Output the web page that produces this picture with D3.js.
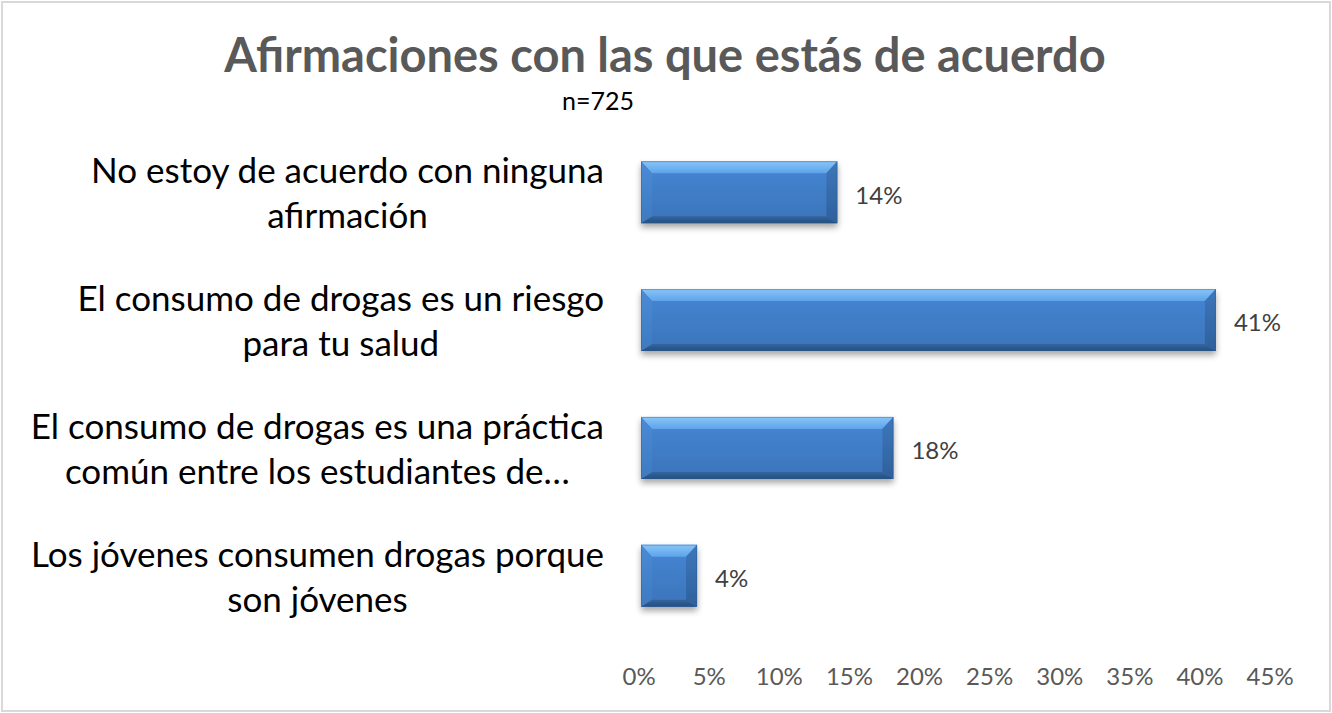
<!DOCTYPE html>
<html lang="es">
<head>
<meta charset="UTF-8">
<title>Afirmaciones con las que estás de acuerdo</title>
<style>
  body { margin: 0; background: #fff; }
  svg { display: block; }
  .title { font-family: Lato, "Open Sans", sans-serif; font-weight: bold; fill: #595959; }
  .subtitle { font-family: Lato, "Open Sans", sans-serif; fill: #000; }
  .cat-label { font-family: Lato, "Open Sans", sans-serif; fill: #000; }
  .value-label { font-family: Lato, "Open Sans", sans-serif; fill: #404040; }
  .axis text { font-family: Lato, "Open Sans", sans-serif; fill: #595959; }
</style>
</head>
<body>
<script src="https://d3js.org/d3.v7.min.js"></script>
<script>
// data
const categories = [
  ["No estoy de acuerdo con ninguna", "afirmación"],
  ["El consumo de drogas es un riesgo", "para tu salud"],
  ["El consumo de drogas es una práctica", "común entre los estudiantes de…"],
  ["Los jóvenes consumen drogas porque", "son jóvenes"]
];
const values = [0.14, 0.41, 0.18, 0.04];
const tickValues = [0, 0.05, 0.10, 0.15, 0.20, 0.25, 0.30, 0.35, 0.40, 0.45];

const width = 1332, height = 713;
const margin = { top: 128, right: 60, bottom: 73, left: 641 };

const svg = d3.select("body").append("svg")
  .attr("width", width)
  .attr("height", height);

const defs = svg.append("defs");

const shadow = defs.append("filter")
  .attr("id", "shadow")
  .attr("x", "-10%").attr("y", "-20%")
  .attr("width", "120%").attr("height", "160%");
shadow.append("feDropShadow")
  .attr("dx", 0).attr("dy", 4)
  .attr("stdDeviation", 3)
  .attr("flood-color", "#000")
  .attr("flood-opacity", 0.35);

function grad(id, c1, c2) {
  const g = defs.append("linearGradient")
    .attr("id", id)
    .attr("x1", 0).attr("y1", 0).attr("x2", 0).attr("y2", 1);
  g.append("stop").attr("offset", "0%").attr("stop-color", c1);
  g.append("stop").attr("offset", "100%").attr("stop-color", c2);
}
grad("g-main", "#4686d4", "#3b74ba");
grad("g-top", "#88c6f8", "#5ea3ea");
grad("g-bottom", "#33659e", "#264e7e");
grad("g-left", "#4a8bd6", "#3e7ac0");
grad("g-right", "#3d77bc", "#2f609b");

// frame
svg.append("rect")
  .attr("x", 2).attr("y", 2)
  .attr("width", width - 4).attr("height", height - 4)
  .attr("fill", "#fff")
  .attr("stroke", "#d9d9d9")
  .attr("stroke-width", 2);

// title
svg.append("text")
  .attr("class", "title")
  .attr("x", 665).attr("y", 72)
  .attr("text-anchor", "middle")
  .attr("font-size", 47)
  .text("Afirmaciones con las que estás de acuerdo");

svg.append("text")
  .attr("class", "subtitle")
  .attr("x", 598).attr("y", 110)
  .attr("text-anchor", "middle")
  .attr("font-size", 25)
  .text("n=725");

const x = d3.scaleLinear()
  .domain([0, 0.45])
  .range([margin.left, width - margin.right]);

const y = d3.scaleBand()
  .domain(d3.range(categories.length))
  .range([margin.top, height - margin.bottom])
  .paddingInner(0.515)
  .paddingOuter(0.26);

// x axis (labels only)
const xAxis = svg.append("g")
  .attr("class", "axis")
  .attr("transform", `translate(0,${height - margin.bottom})`)
  .call(d3.axisBottom(x).tickValues(tickValues).tickFormat(d3.format(".0%")).tickSize(0).tickPadding(28));
xAxis.select(".domain").remove();
xAxis.selectAll("text").attr("font-size", 24).attr("dx", "-0.1em");

// category labels
const labelGroup = svg.append("g");
categories.forEach((lines, i) => {
  const cy = y(i) + y.bandwidth() / 2;
  const t = labelGroup.append("text")
    .attr("class", "cat-label")
    .attr("font-size", 35)
    .attr("text-anchor", "middle");
  lines.forEach((ln, j) => {
    t.append("tspan").attr("x", 0).attr("y", cy - 9 + j * 45).text(ln);
  });
  // right-align the widest line at 604, centre the rest on it
  let w = 0;
  t.selectAll("tspan").each(function() { w = Math.max(w, this.getComputedTextLength()); });
  t.attr("transform", `translate(${604 - w / 2},0)`);
});

// bars
const bars = svg.append("g")
  .selectAll("g")
  .data(values)
  .enter().append("g")
  .attr("filter", "url(#shadow)");

bars.each(function(d, i) {
  const g = d3.select(this);
  const x0 = x(0), x1 = x(d);
  const y0 = y(i), y1 = y(i) + y.bandwidth();
  const bs = Math.min(11, (x1 - x0) / 2); // side bevel
  const bt = 12, bb = 7;                  // top / bottom bevel
  const pts = arr => arr.map(p => p.join(",")).join(" ");
  g.append("rect")
    .attr("x", x0).attr("y", y0)
    .attr("width", x1 - x0).attr("height", y1 - y0)
    .attr("fill", "url(#g-main)");
  g.append("polygon")
    .attr("points", pts([[x0, y0], [x1, y0], [x1 - bs, y0 + bt], [x0 + bs, y0 + bt]]))
    .attr("fill", "url(#g-top)");
  g.append("polygon")
    .attr("points", pts([[x0, y1], [x1, y1], [x1 - bs, y1 - bb], [x0 + bs, y1 - bb]]))
    .attr("fill", "url(#g-bottom)");
  g.append("polygon")
    .attr("points", pts([[x0, y0], [x0 + bs, y0 + bt], [x0 + bs, y1 - bb], [x0, y1]]))
    .attr("fill", "url(#g-left)");
  g.append("polygon")
    .attr("points", pts([[x1, y0], [x1 - bs, y0 + bt], [x1 - bs, y1 - bb], [x1, y1]]))
    .attr("fill", "url(#g-right)");
  g.append("rect")
    .attr("x", x0 + 0.5).attr("y", y0 + 0.5)
    .attr("width", x1 - x0 - 1).attr("height", y1 - y0 - 1)
    .attr("fill", "none")
    .attr("stroke", "#2d5c92")
    .attr("stroke-opacity", 0.4)
    .attr("stroke-width", 1);
});

// value labels
svg.append("g")
  .selectAll("text")
  .data(values)
  .enter().append("text")
  .attr("class", "value-label")
  .attr("x", d => x(d) + 18)
  .attr("y", (d, i) => y(i) + y.bandwidth() / 2 + 3)
  .attr("dy", "0.35em")
  .attr("font-size", 24)
  .text(d => d3.format(".0%")(d));
</script>
</body>
</html>
